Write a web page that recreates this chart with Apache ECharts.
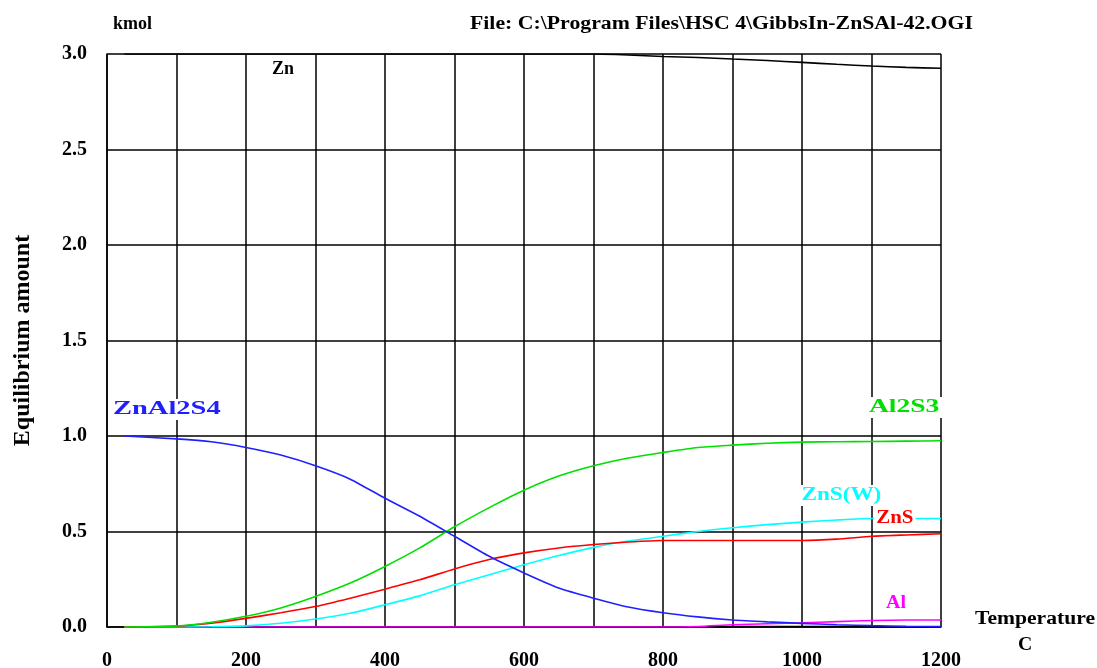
<!DOCTYPE html>
<html>
<head>
<meta charset="utf-8">
<title>HSC Equilibrium amount</title>
<script src="https://cdn.jsdelivr.net/npm/echarts@6/dist/echarts.min.js"></script>
<style>
  html, body { margin: 0; padding: 0; background: #fff; }
  #chart { width: 1097px; height: 668px; }
</style>
</head>
<body>
<div id="chart"></div>
<script>
// Temperature points (C)
const temps = [25, 100, 150, 200, 250, 300, 350, 400, 450, 500, 550, 600, 650,
               700, 750, 800, 850, 900, 950, 1000, 1050, 1100, 1150, 1200];

// Equilibrium amounts (kmol)
const zn      = [3.0, 3.0, 3.0, 3.0, 3.0, 3.0, 3.0, 3.0, 3.0, 3.0, 3.0, 3.0, 3.0,
                 3.0, 2.995, 2.987, 2.982, 2.974, 2.966, 2.956, 2.946, 2.937, 2.93, 2.925];
const znAl2S4 = [1.0, 0.985, 0.97, 0.94, 0.9, 0.844, 0.774, 0.674, 0.58, 0.475, 0.37, 0.283, 0.204,
                 0.151, 0.105, 0.075, 0.053, 0.037, 0.027, 0.019, 0.012, 0.007, 0.004, 0.002];
const al2S3   = [0.0, 0.005, 0.025, 0.056, 0.1, 0.16, 0.23, 0.317, 0.414, 0.525, 0.625, 0.716, 0.79,
                 0.844, 0.885, 0.914, 0.94, 0.952, 0.962, 0.968, 0.97, 0.971, 0.973, 0.975];
const znS     = [0.0, 0.005, 0.02, 0.045, 0.075, 0.107, 0.151, 0.198, 0.247, 0.304, 0.353, 0.388, 0.414,
                 0.432, 0.445, 0.453, 0.453, 0.453, 0.453, 0.453, 0.46, 0.475, 0.482, 0.488];
const znSW    = [0.0, 0.0, 0.001, 0.006, 0.02, 0.042, 0.072, 0.116, 0.163, 0.221, 0.274, 0.326, 0.374,
                 0.417, 0.45, 0.475, 0.5, 0.52, 0.536, 0.549, 0.56, 0.568, 0.568, 0.568];
const al      = [0.0, 0.0, 0.0, 0.0, 0.0, 0.0, 0.0, 0.0, 0.0, 0.0, 0.0, 0.0, 0.0,
                 0.0, 0.0, 0.0, 0.003, 0.012, 0.017, 0.022, 0.028, 0.034, 0.037, 0.037];
const other   = [0.0, 0.0, 0.0, 0.0, 0.0, 0.0, 0.0, 0.0, 0.0, 0.0, 0.0, 0.0, 0.0,
                 0.0, 0.0, 0.0, 0.0, 0.003, 0.003, 0.003, 0.003, 0.003, 0.0, 0.0];

const xTicks = [0, 200, 400, 600, 800, 1000, 1200];

const FONT = '"Liberation Serif", "DejaVu Serif", serif';

function pairs(vals) {
  return temps.map((t, i) => [t, vals[i]]);
}

function lineSeries(name, vals, color) {
  return {
    name: name,
    type: 'line',
    data: pairs(vals),
    smooth: 0.2,
    showSymbol: false,
    lineStyle: { color: color, width: 1.6 },
    z: 3
  };
}

// text drawn stretched horizontally like the HSC output
function label(text, x, y, color, sx, size, bg) {
  return {
    type: 'text', x: x, y: y, scaleX: sx, z: 100,
    style: {
      text: text, fill: color, font: 'bold ' + (size || 18) + 'px ' + FONT,
      verticalAlign: 'top',
      backgroundColor: bg ? '#fff' : null,
      padding: bg ? [1, 2] : 0
    }
  };
}

const chart = echarts.init(document.getElementById('chart'));

chart.setOption({
  backgroundColor: '#fff',
  animation: false,
  grid: { left: 107, right: 156, top: 54, bottom: 41, outerBoundsMode: 'none', containLabel: false },
  xAxis: {
    type: 'value',
    min: 0, max: 1200, interval: 100,
    axisLine: { lineStyle: { color: '#000', width: 1.5 } },
    axisTick: { show: false },
    axisLabel: {
      color: '#000', fontFamily: FONT, fontWeight: 'bold', fontSize: 20, margin: 24,
      formatter: v => (xTicks.indexOf(v) >= 0 ? String(v) : '')
    },
    splitLine: { show: true, lineStyle: { color: '#000', width: 1.5 } }
  },
  yAxis: {
    type: 'value',
    min: 0, max: 3, interval: 0.5,
    axisLine: { show: true, lineStyle: { color: '#000', width: 1.5 } },
    axisTick: { show: false },
    axisLabel: {
      color: '#000', fontFamily: FONT, fontWeight: 'bold', fontSize: 20, margin: 20,
      formatter: v => v.toFixed(1)
    },
    splitLine: { show: true, lineStyle: { color: '#000', width: 1.5 } },
    name: 'Equilibrium amount',
    nameLocation: 'middle',
    nameGap: 72,
    nameRotate: 90,
    nameTextStyle: { color: '#000', fontFamily: FONT, fontWeight: 'bold', fontSize: 24 }
  },
  series: [
    lineSeries('Other', other, '#000000'),
    lineSeries('Al', al, '#ff00ff'),
    lineSeries('ZnS(W)', znSW, '#00ffff'),
    lineSeries('ZnS', znS, '#ff0000'),
    lineSeries('Al2S3', al2S3, '#00e000'),
    lineSeries('ZnAl2S4', znAl2S4, '#2020ff'),
    lineSeries('Zn', zn, '#000000')
  ],
  graphic: [
    label('kmol', 113, 15, '#000', 1.0),
    label('File: C:\\Program Files\\HSC 4\\GibbsIn-ZnSAl-42.OGI', 470, 15, '#000', 1.21),
    label('Temperature', 975, 610, '#000', 1.2),
    label('C', 1018, 636, '#000', 1.1),
    label('Zn', 272, 60, '#000', 1.0),
    label('ZnAl2S4', 110, 399, '#2020ff', 1.5, 19, true),
    label('Al2S3', 866, 397, '#00e000', 1.45, 19, true),
    label('ZnS(W)', 799, 485, '#00ffff', 1.22, 19, true),
    label('ZnS', 874, 508, '#ff0000', 1.1, 19, true),
    label('Al', 884, 593, '#ff00ff', 1.05, 19, true)
  ]
});
</script>
</body>
</html>
